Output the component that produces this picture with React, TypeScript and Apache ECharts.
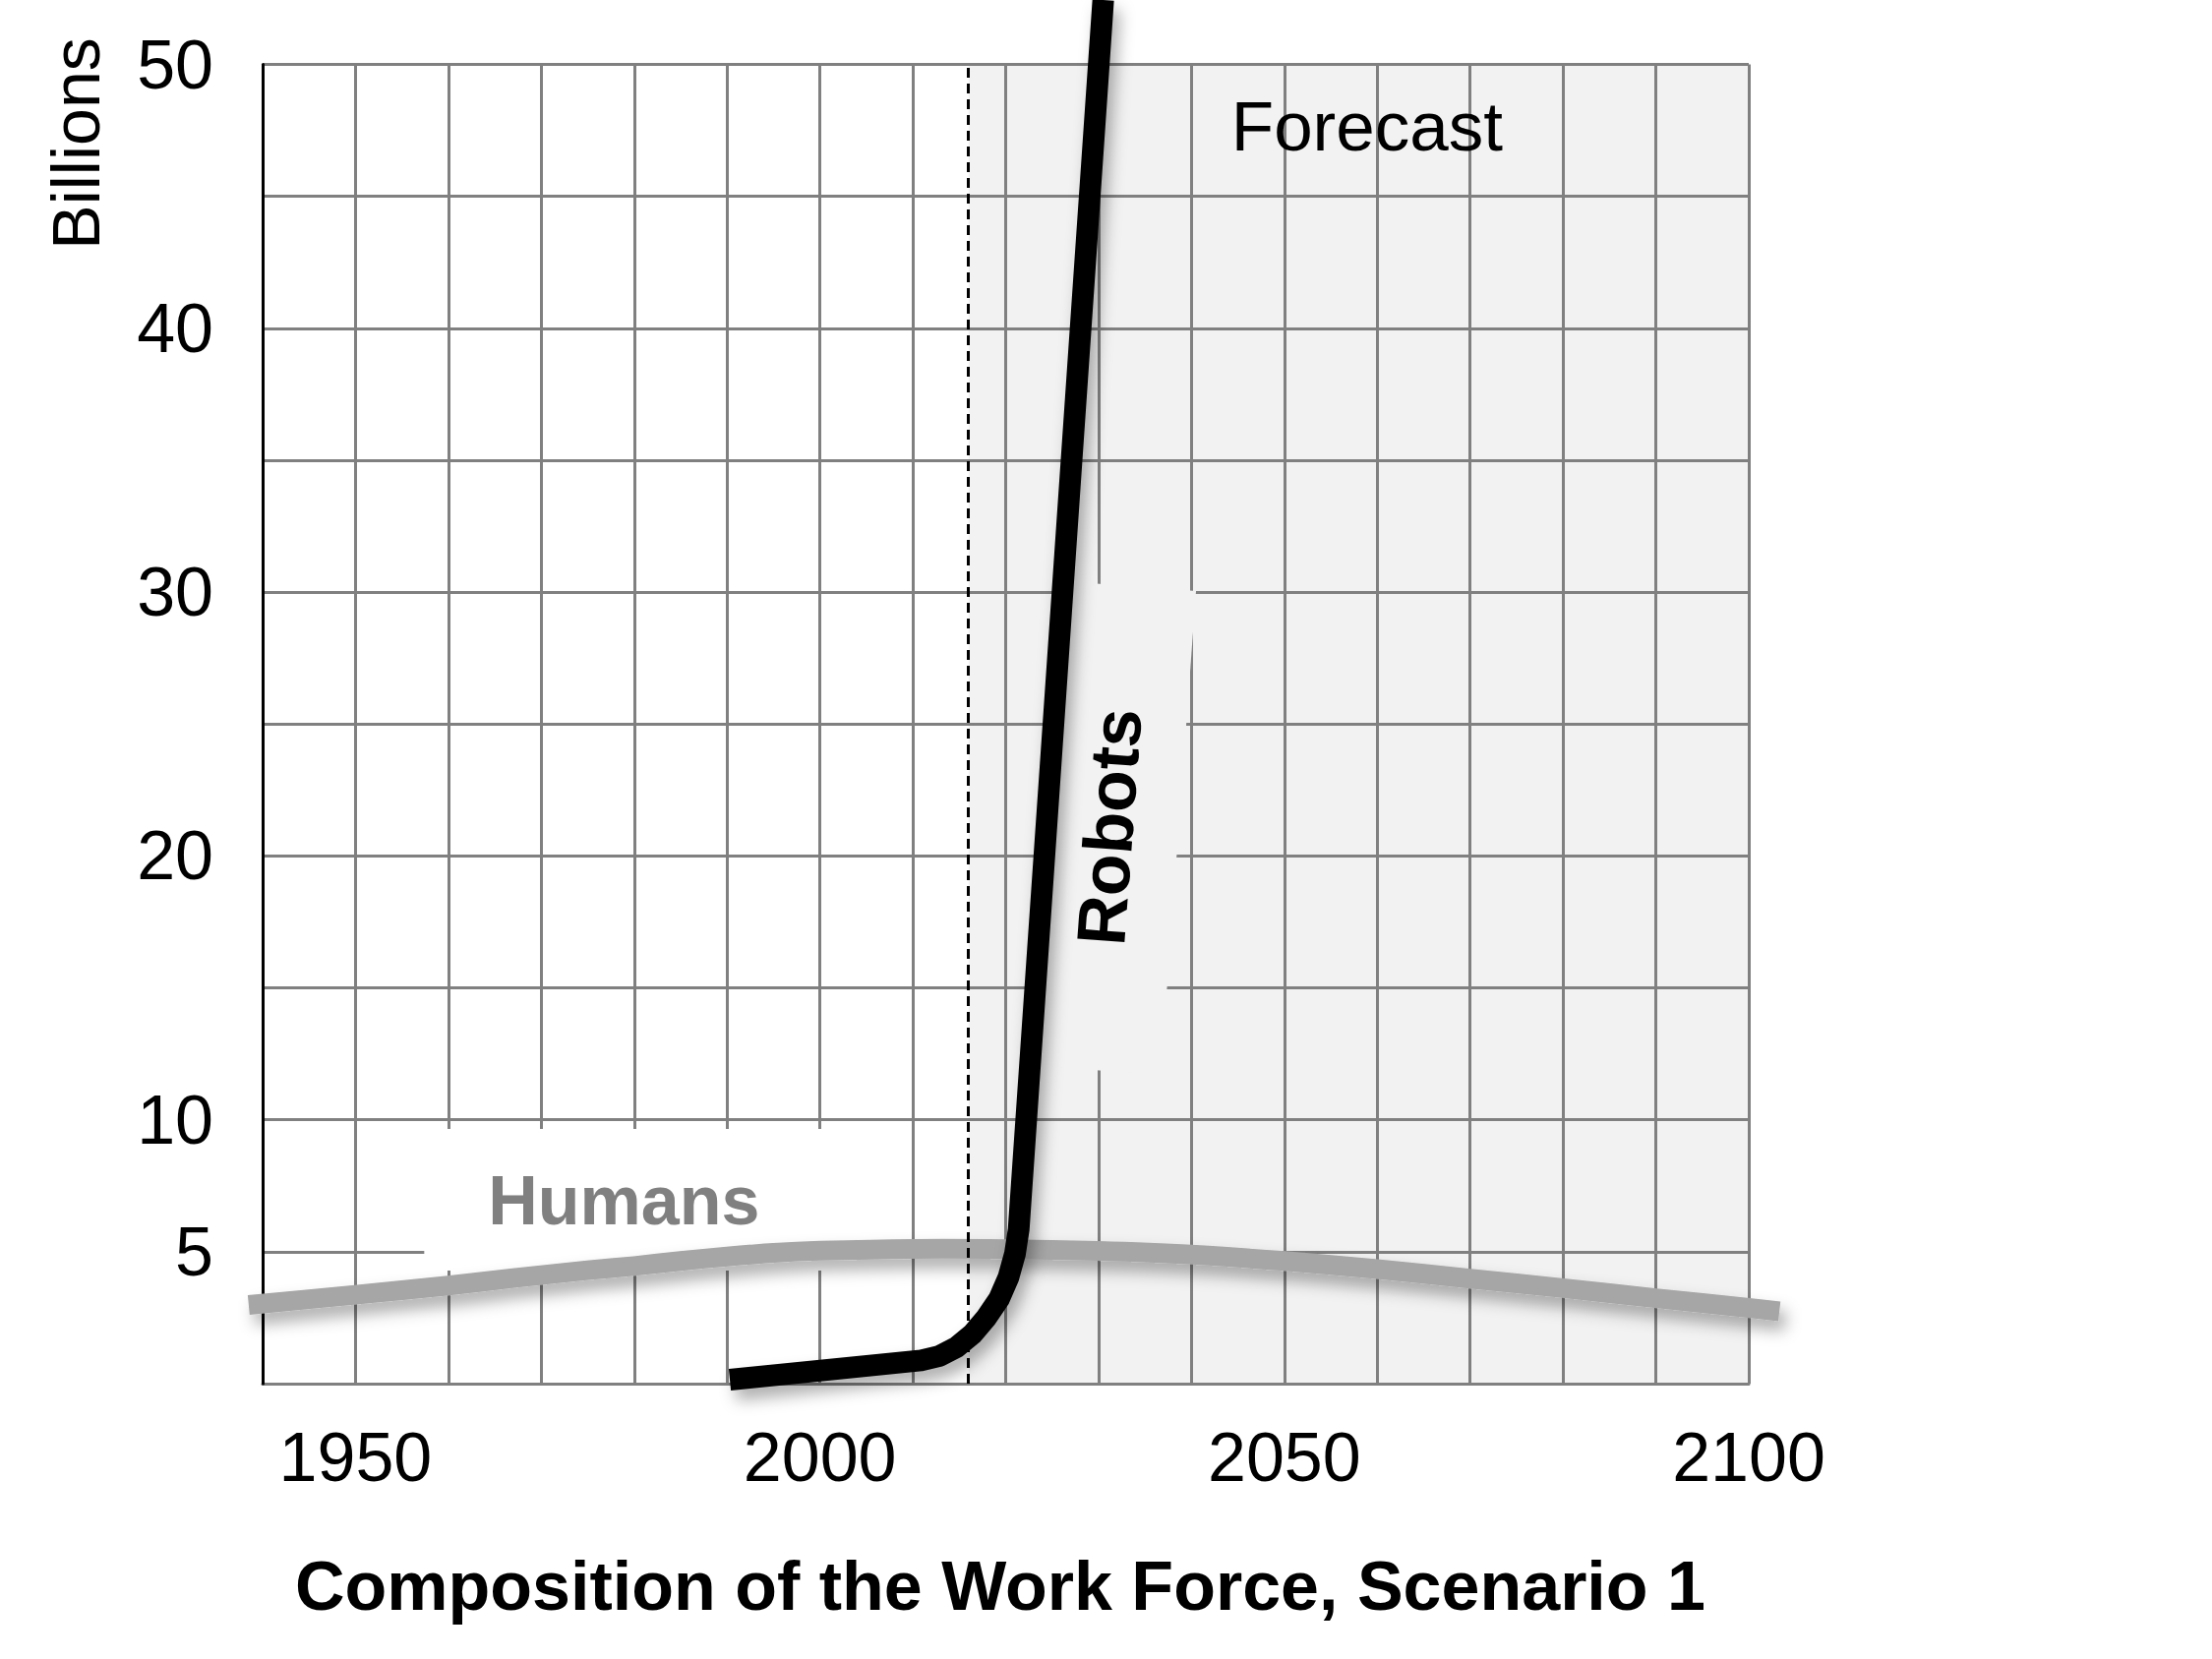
import React, { useEffect, useRef } from "react";
import * as echarts from "echarts";

const W = 2249;
const H = 1687;
const FONT = "'Liberation Sans', Arial, Helvetica, sans-serif";

// Axis ticks
const X_MIN = 1940;
const X_MAX = 2100;
const Y_MIN = 0;
const Y_MAX = 50;
const xTickLabels = [1950, 2000, 2050, 2100];
const yTickLabels = [5, 10, 20, 30, 40, 50];

// Series: Humans (billions)
const humansYears = [1938.5, 1950, 1960, 1967, 1975, 1980, 1985, 1990, 1995, 2000, 2010, 2020, 2030, 2040, 2050, 2060, 2070, 2080, 2090, 2100, 2103.3];
const humansValues = [2.98, 3.37, 3.72, 4.0, 4.3, 4.46, 4.65, 4.82, 4.96, 5.04, 5.11, 5.1, 5.03, 4.89, 4.65, 4.34, 3.98, 3.62, 3.24, 2.87, 2.74];

// Series: Robots (billions)
const robotsYears = [1990.3, 2010.9, 2012.9, 2014.7, 2016.4, 2017.9, 2019.3, 2020.3, 2021.0, 2021.4, 2030.5];
const robotsValues = [0.15, 0.88, 1.05, 1.38, 1.87, 2.49, 3.22, 4.03, 4.92, 5.85, 52.44];

// Forecast period
const forecastStart = 2016;
const forecastEnd = 2100;

// Annotation anchors (data coordinates)
const humansBox = [[1957.4, 9.65], [2004.9, 4.29]];
const humansLabelAt = [1978.9, 6.93];
const robotsBox = [[2026.19, 30.41], [2040.49, 30.04], [2036.68, 11.7], [2022.44, 12.07]];
const robotsLabelAt = [2031.17, 21.1];
const forecastLabelAt = [2058.9, 47.65];

export default function App() {
  const ref = useRef<HTMLDivElement>(null);

  useEffect(() => {
    if (!ref.current) return;
    const chart = echarts.init(ref.current, undefined, { renderer: "svg" });

    const shadow = {
      shadowColor: "rgba(0,0,0,0.32)",
      shadowBlur: 16,
      shadowOffsetX: 6,
      shadowOffsetY: 10,
    };

    const humansData = humansYears.map((y, i) => [y, humansValues[i]]);

    const option: any = {
      animation: false,
      backgroundColor: "#ffffff",
      grid: {
        left: 267,
        right: W - 1778,
        top: 65.5,
        bottom: H - 1407,
        containLabel: false,
        outerBoundsMode: "none",
      },
      xAxis: {
        type: "value",
        min: X_MIN,
        max: X_MAX,
        interval: 10,
        z: 0,
        axisLine: { show: true, lineStyle: { color: "#808080", width: 3 } },
        axisTick: { show: false },
        splitLine: { show: true, lineStyle: { color: "#808080", width: 3 } },
        axisLabel: {
          margin: 40,
          fontSize: 70,
          color: "#000",
          fontFamily: FONT,
          formatter: (v: number) => (xTickLabels.includes(v) ? String(v) : ""),
        },
      },
      yAxis: {
        type: "value",
        min: Y_MIN,
        max: Y_MAX,
        interval: 5,
        z: 1,
        axisLine: { show: true, lineStyle: { color: "#000", width: 3 } },
        axisTick: { show: false },
        splitLine: { show: true, lineStyle: { color: "#808080", width: 3 } },
        axisLabel: {
          margin: 50,
          fontSize: 70,
          color: "#000",
          fontFamily: FONT,
          formatter: (v: number) => (yTickLabels.includes(v) ? String(v) : ""),
        },
      },
      graphic: [
        {
          type: "text",
          x: 77,
          y: 146,
          rotation: Math.PI / 2,
          style: {
            text: "Billions",
            fontSize: 68,
            fontFamily: FONT,
            fill: "#000",
            align: "center",
            verticalAlign: "middle",
          },
        },
        {
          type: "text",
          x: 1017,
          y: 1613,
          style: {
            text: "Composition of the Work Force, Scenario 1",
            fontSize: 70,
            fontWeight: "bold",
            fontFamily: FONT,
            fill: "#000",
            align: "center",
            verticalAlign: "middle",
          },
        },
      ],
      series: [
        {
          name: "forecastShade",
          type: "line",
          z: -1,
          silent: true,
          showSymbol: false,
          data: [[forecastStart, Y_MIN]],
          lineStyle: { opacity: 0 },
          markArea: {
            silent: true,
            z: -1,
            itemStyle: { color: "#f2f2f2" },
            label: { show: false },
            data: [[{ xAxis: forecastStart, yAxis: Y_MIN }, { xAxis: forecastEnd, yAxis: Y_MAX }]],
          },
        },
        {
          name: "annotations",
          type: "custom",
          z: 2,
          silent: true,
          data: [[2000, 25]],
          renderItem: (params: any, api: any) => {
            const c = (p: number[]) => api.coord(p);
            const h0 = c(humansBox[0]);
            const h1 = c(humansBox[1]);
            const hl = c(humansLabelAt);
            const rl = c(robotsLabelAt);
            const fl = c(forecastLabelAt);
            return {
              type: "group",
              children: [
                {
                  type: "rect",
                  shape: { x: h0[0], y: h0[1], width: h1[0] - h0[0], height: h1[1] - h0[1] },
                  style: { fill: "#ffffff" },
                },
                {
                  type: "polygon",
                  shape: { points: robotsBox.map(c) },
                  style: { fill: "#f2f2f2" },
                },
                {
                  type: "text",
                  x: hl[0],
                  y: hl[1],
                  style: {
                    text: "Humans",
                    fontSize: 70,
                    fontWeight: "bold",
                    fontFamily: FONT,
                    fill: "#808080",
                    align: "center",
                    verticalAlign: "middle",
                  },
                },
                {
                  type: "text",
                  x: rl[0],
                  y: rl[1],
                  rotation: (85.8 * Math.PI) / 180,
                  style: {
                    text: "Robots",
                    fontSize: 70,
                    fontWeight: "bold",
                    fontFamily: FONT,
                    fill: "#000",
                    align: "center",
                    verticalAlign: "middle",
                  },
                },
                {
                  type: "text",
                  x: fl[0],
                  y: fl[1],
                  style: {
                    text: "Forecast",
                    fontSize: 71,
                    fontFamily: FONT,
                    fill: "#000",
                    align: "center",
                    verticalAlign: "middle",
                  },
                },
              ],
            };
          },
        },
        {
          name: "Humans",
          type: "custom",
          z: 3,
          clip: false,
          silent: true,
          data: humansData,
          renderItem: (params: any, api: any) => {
            if (params.dataIndex !== 0) return null;
            const pts = humansData.map((p) => api.coord(p));
            return {
              type: "polyline",
              shape: { points: pts, smooth: 0.3 },
              style: {
                fill: "none",
                stroke: "#a6a6a6",
                lineWidth: 20,
                lineCap: "butt",
                lineJoin: "round",
                ...shadow,
              },
            };
          },
        },
        {
          name: "forecastLine",
          type: "line",
          z: 4,
          silent: true,
          showSymbol: false,
          data: [[forecastStart, Y_MIN]],
          lineStyle: { opacity: 0 },
          markLine: {
            silent: true,
            z: 4,
            symbol: ["none", "none"],
            label: { show: false },
            lineStyle: { color: "#000", width: 3, type: [10, 6] },
            data: [{ xAxis: forecastStart }],
          },
        },
        {
          name: "Robots",
          type: "line",
          z: 5,
          clip: false,
          silent: true,
          showSymbol: false,
          data: robotsYears.map((y, i) => [y, robotsValues[i]]),
          lineStyle: { color: "#000", width: 22, cap: "butt", join: "round", ...shadow },
        },
      ],
    };

    chart.setOption(option);
    return () => chart.dispose();
  }, []);

  return (
    <div
      ref={ref}
      style={{ position: "fixed", left: 0, top: 0, width: W, height: H, background: "#fff" }}
    />
  );
}
